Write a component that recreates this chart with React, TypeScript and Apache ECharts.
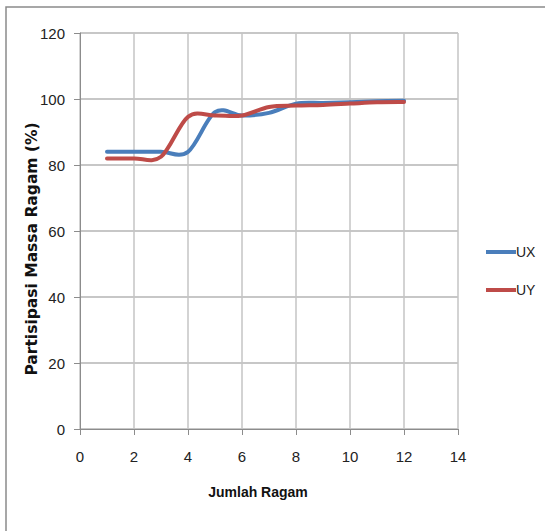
import React, { useEffect, useRef } from "react";
import * as echarts from "echarts";

const xValues = [1, 2, 3, 4, 5, 6, 7, 8, 9, 10, 11, 12];
const uxValues = [84, 84, 84, 84, 96, 95, 95.8, 98.6, 98.8, 99, 99.3, 99.5];
const uyValues = [82, 82, 82.5, 94.6, 95, 95, 97.6, 98, 98.2, 98.6, 99, 99.1];
const seriesNames = ["UX", "UY"];
const seriesColors = ["#4a7ebb", "#be4b48"];
const xTitle = "Jumlah Ragam";
const yTitle = "Partisipasi Massa Ragam (%)";

const FONT = "'Liberation Sans Narrow', 'Liberation Sans', sans-serif";

function makeSmoothSeries(name: string, color: string, ys: number[]) {
  return {
    name,
    type: "custom",
    data: xValues.map((x, i) => [x, ys[i]]),
    encode: { x: 0, y: 1 },
    itemStyle: { color },
    renderItem: (params: any, api: any) => {
      if (params.dataIndex !== 0) return null;
      const pts = xValues.map((x, i) => api.coord([x, ys[i]]));
      const n = pts.length;
      let d = `M${pts[0][0]},${pts[0][1]}`;
      for (let i = 0; i < n - 1; i++) {
        const p0 = pts[Math.max(i - 1, 0)];
        const p1 = pts[i];
        const p2 = pts[i + 1];
        const p3 = pts[Math.min(i + 2, n - 1)];
        const c1x = p1[0] + (p2[0] - p0[0]) / 6;
        const c1y = p1[1] + (p2[1] - p0[1]) / 6;
        const c2x = p2[0] - (p3[0] - p1[0]) / 6;
        const c2y = p2[1] - (p3[1] - p1[1]) / 6;
        d += ` C${c1x},${c1y} ${c2x},${c2y} ${p2[0]},${p2[1]}`;
      }
      return {
        type: "path",
        shape: { pathData: d },
        style: { fill: "none", stroke: color, lineWidth: 4, lineCap: "round", lineJoin: "round" },
        silent: true,
      };
    },
  };
}

export default function App() {
  const ref = useRef<HTMLDivElement>(null);
  useEffect(() => {
    if (!ref.current) return;
    const chart = echarts.init(ref.current, undefined, { renderer: "svg" });
    chart.setOption({
      animation: false,
      backgroundColor: "#ffffff",
      graphic: [
        {
          type: "rect",
          shape: { x: 6, y: 7, width: 600, height: 600 },
          style: { fill: "none", stroke: "#8a8a8a", lineWidth: 1.5 },
          silent: true,
          z: -1,
        },
      ],
      grid: { left: 80, right: 87, top: 33, bottom: 102 },
      legend: {
        orient: "vertical",
        left: 486,
        top: 245,
        padding: 0,
        itemGap: 24,
        itemWidth: 30,
        itemHeight: 4,
        icon: "rect",
        data: seriesNames.map((n, i) => ({ name: n, itemStyle: { color: seriesColors[i] } })),
        textStyle: { fontFamily: FONT, fontSize: 14, color: "#222", padding: [0, 0, 0, -5] },
      },
      xAxis: {
        type: "value",
        min: 0,
        max: 14,
        interval: 2,
        name: xTitle,
        nameLocation: "middle",
        nameGap: 56,
        nameTextStyle: { fontFamily: FONT, fontSize: 14, fontWeight: "bold", color: "#111", padding: [0, 22, 0, 0] },
        axisLine: { show: true, onZero: false, lineStyle: { color: "#8c8c8c", width: 1 } },
        axisTick: { show: true, length: 6, lineStyle: { color: "#8c8c8c" } },
        axisLabel: { fontFamily: FONT, fontSize: 15, color: "#222", margin: 20 },
        splitLine: { show: true, lineStyle: { color: "#c4c4c4", width: 1.5 } },
      },
      yAxis: {
        type: "value",
        min: 0,
        max: 120,
        interval: 20,
        name: yTitle,
        nameLocation: "middle",
        nameGap: 40,
        nameMoveOverlap: false,
        nameTextStyle: { fontFamily: "'DejaVu Sans', sans-serif", fontSize: 15.5, fontWeight: "bold", color: "#111", padding: [0, 36, 0, 0] },
        axisLine: { show: true, onZero: false, lineStyle: { color: "#8c8c8c", width: 1 } },
        axisTick: { show: true, length: 6, lineStyle: { color: "#8c8c8c" } },
        axisLabel: { fontFamily: FONT, fontSize: 15, color: "#222", margin: 15 },
        splitLine: { show: true, lineStyle: { color: "#b4b4b4", width: 1.5 } },
      },
      series: [
        makeSmoothSeries(seriesNames[0], seriesColors[0], uxValues),
        makeSmoothSeries(seriesNames[1], seriesColors[1], uyValues),
      ],
    });
    return () => chart.dispose();
  }, []);
  return (
    <div
      ref={ref}
      style={{ position: "fixed", left: 0, top: 0, width: 545, height: 531 }}
    />
  );
}
